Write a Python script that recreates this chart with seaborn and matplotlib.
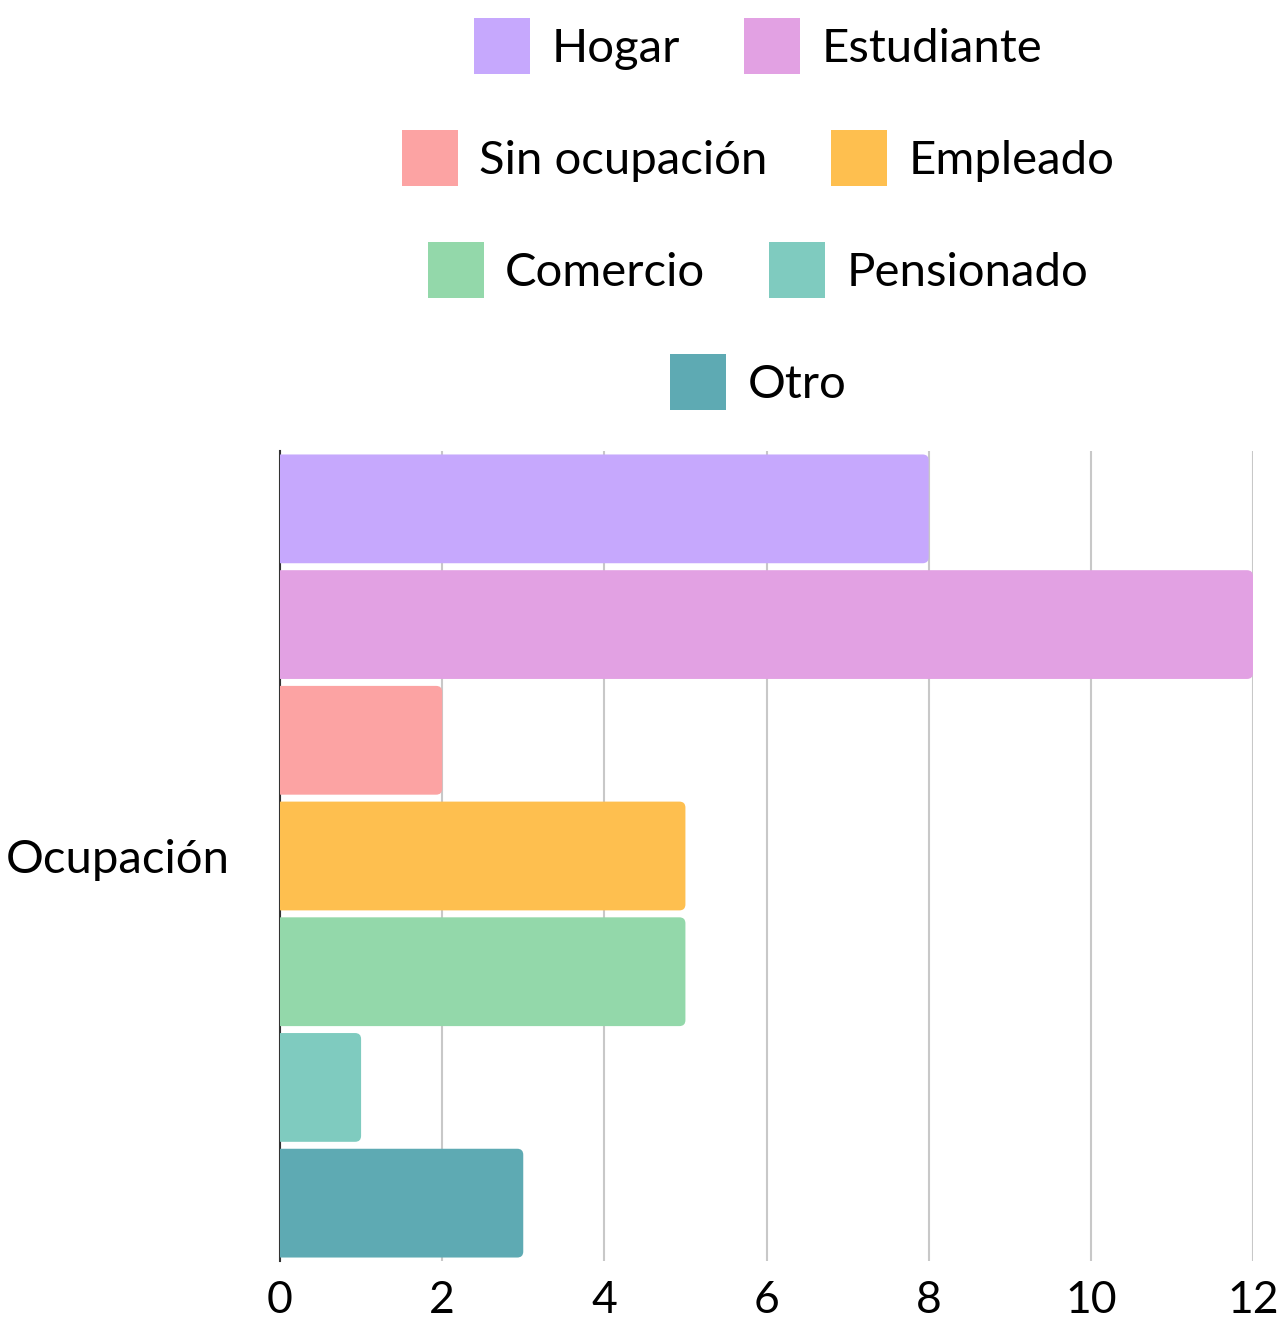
import matplotlib
matplotlib.use("Agg")
import matplotlib.pyplot as plt
from matplotlib.patches import FancyBboxPatch, Patch
import seaborn as sns
import pandas as pd

categories = ["Hogar", "Estudiante", "Sin ocupación", "Empleado", "Comercio", "Pensionado", "Otro"]
values = [8, 12, 2, 5, 5, 1, 3]
colors = ["#C6A8FD", "#E2A1E3", "#FCA3A3", "#FEBF4F", "#93D8AA", "#7FCBBF", "#5EAAB3"]
group_label = "Ocupación"
xticks = [0, 2, 4, 6, 8, 10, 12]

sns.set_theme(style="white")
plt.rcParams["font.family"] = ["Lato", "DejaVu Sans"]

df = pd.DataFrame({"grupo": [group_label] * len(categories), "cat": categories, "val": values})

W, H = 1277, 1325
fig = plt.figure(figsize=(W / 100, H / 100), dpi=100)
ax_l, ax_r, ax_t, ax_b = 280, 1253, 451, 1261
ax = fig.add_axes([ax_l / W, 1 - ax_b / H, (ax_r - ax_l) / W, (ax_b - ax_t) / H])

sns.barplot(data=df, y="grupo", x="val", hue="cat", hue_order=categories,
            palette=colors, orient="h", width=1.0, gap=0.06, ax=ax,
            saturation=1, linewidth=0, legend=True)

# legend handles (independent copies)
handles, labels = ax.get_legend_handles_labels()
handles = [Patch(facecolor=h.get_facecolor(), edgecolor="none") for h in handles]
ax.get_legend().remove()

ax.set_ylim(0.5, -0.5)
ax.set_xlim(0, 12)

# round the right-hand corners of each bar
px_x = (ax_r - ax_l) / 12.0
px_y = (ax_b - ax_t) / 1.0
r_px = 6
for p in list(ax.patches):
    x0, y0 = p.get_x(), p.get_y()
    w, h = p.get_width(), p.get_height()
    fc = p.get_facecolor()
    rx = r_px / px_x
    fb = FancyBboxPatch((x0 - rx, y0), w + rx, h,
                        boxstyle=f"round,pad=0,rounding_size={rx}",
                        mutation_aspect=px_x / px_y,
                        facecolor=fc, edgecolor="none", zorder=2)
    p.set_visible(False)
    ax.add_patch(fb)

ax.set_xticks(xticks)
ax.set_xticklabels([str(t) for t in xticks])
ax.xaxis.grid(True, color="#c8c8c8", linewidth=1.5, zorder=0)
ax.set_axisbelow(True)
for s in ["top", "right", "bottom"]:
    ax.spines[s].set_visible(False)
ax.spines["left"].set_color("#333333")
ax.spines["left"].set_linewidth(1.5)
ax.spines["left"].set_zorder(1)
ax.set_xlabel("")
ax.set_ylabel("")
ax.tick_params(axis="x", length=0, pad=14, labelsize=32, colors="black")
ax.tick_params(axis="y", length=0, pad=36, labelsize=34, colors="black")

rows = [[0, 1], [2, 3], [4, 5], [6]]
row_y = [46, 158, 270, 382]
for r, yy in zip(rows, row_y):
    leg = fig.legend([handles[i] for i in r], [labels[i] for i in r],
                     loc="center", bbox_to_anchor=(758 / W, 1 - yy / H),
                     ncol=len(r), frameon=False, fontsize=34,
                     handlelength=1.19, handleheight=1.45, handletextpad=0.45,
                     columnspacing=1.35, borderpad=0, borderaxespad=0)
    for t in leg.get_texts():
        t.set_color("black")

fig.savefig("out.png", dpi=100, facecolor="white")
